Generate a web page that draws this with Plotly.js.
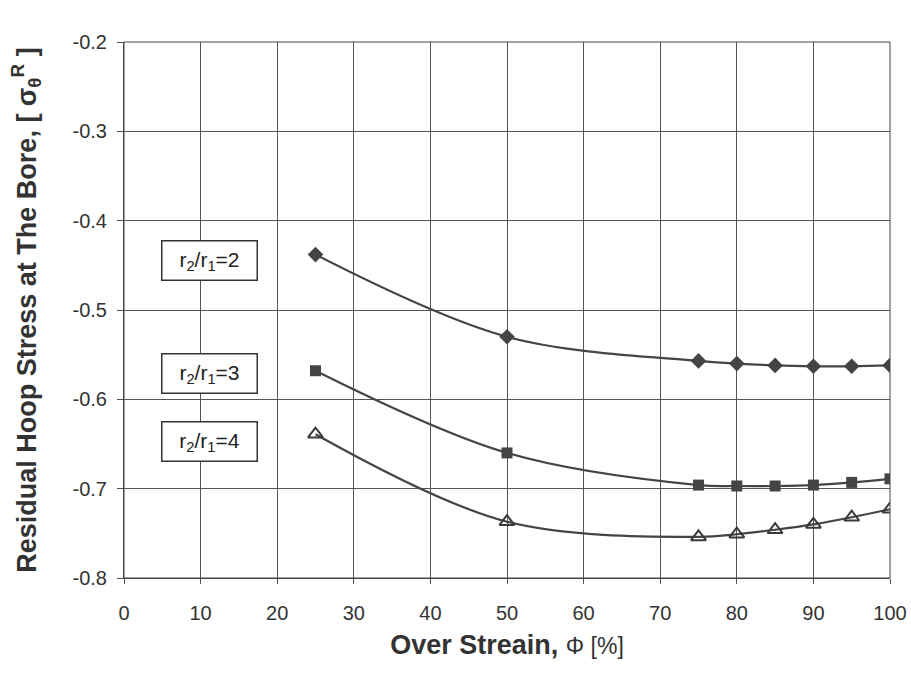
<!DOCTYPE html>
<html><head><meta charset="utf-8">
<script src="https://cdn.plot.ly/plotly-3.0.1.min.js"></script>
<style>html,body{margin:0;padding:0;background:#fff}</style>
</head><body>
<div id="chart" style="width:911px;height:686px"></div>
<script>
const overStrain = [25, 50, 75, 80, 85, 90, 95, 100];
const ratio2 = [-0.438, -0.530, -0.557, -0.560, -0.562, -0.563, -0.563, -0.562];
const ratio3 = [-0.568, -0.660, -0.696, -0.697, -0.697, -0.696, -0.693, -0.689];
const ratio4 = [-0.639, -0.737, -0.754, -0.751, -0.746, -0.740, -0.732, -0.723];
const yTickVals = [-0.8, -0.7, -0.6, -0.5, -0.4, -0.3, -0.2];
const yTickText = ["-0.8", "-0.7", "-0.6", "-0.5", "-0.4", "-0.3", "-0.2"];
const xTickVals = [0, 10, 20, 30, 40, 50, 60, 70, 80, 90, 100];
const labels = ["r<sub>2</sub>/r<sub>1</sub>=2", "r<sub>2</sub>/r<sub>1</sub>=3", "r<sub>2</sub>/r<sub>1</sub>=4"];
const labelX = [11.2, 11.2, 11.2];
const labelY = [-0.445, -0.571, -0.647];

const lineColor = '#444';
const traces = [
  {x: overStrain, y: ratio2, mode: 'lines+markers', line: {color: lineColor, width: 2.2, shape: 'spline'},
   marker: {symbol: 'diamond', size: 12, color: '#444'}},
  {x: overStrain, y: ratio3, mode: 'lines+markers', line: {color: lineColor, width: 2.2, shape: 'spline'},
   marker: {symbol: 'square', size: 11, color: '#444'}},
  {x: overStrain, y: ratio4, mode: 'lines+markers', line: {color: lineColor, width: 2.2, shape: 'spline'},
   marker: {symbol: 'triangle-up-open', size: 13, color: '#3a3a3a', line: {width: 2}}}
];
const annotations = labels.map((t, i) => ({
  x: labelX[i], y: labelY[i], xref: 'x', yref: 'y', text: t, showarrow: false,
  font: {family: 'Liberation Sans, Arial', size: 21, color: '#222'},
  bgcolor: '#fff', bordercolor: '#333', borderwidth: 1.5, borderpad: 6, width: 82
}));
const layout = {
  width: 911, height: 686,
  margin: {l: 124, r: 21, t: 42, b: 108},
  paper_bgcolor: '#fff', plot_bgcolor: '#fff',
  showlegend: false,
  font: {family: 'Liberation Sans, Arial', color: '#333'},
  xaxis: {range: [0, 100], tickvals: xTickVals, showgrid: true, gridcolor: '#555', gridwidth: 1,
    zeroline: false, showline: true, linecolor: '#444', mirror: false, ticks: 'outside', ticklen: 5, tickcolor: '#555',
    ticklabelstandoff: 12,
    tickfont: {size: 20, color: '#333'},
    title: {text: "<b>Over Streain,</b> <span style='font-size:23px'>Φ [%]</span>", font: {size: 27, color: '#333'}, standoff: 12}},
  yaxis: {range: [-0.8, -0.2], tickvals: yTickVals, ticktext: yTickText, showgrid: true, gridcolor: '#555', gridwidth: 1,
    zeroline: false, showline: true, linecolor: '#444', ticks: 'outside', ticklen: 6, tickcolor: '#555',
    ticklabelstandoff: 6,
    tickfont: {size: 20, color: '#333'},
    title: {text: "<b>Residual Hoop Stress at The Bore, [ σ<sub>θ</sub><sup>R</sup> ]</b>", font: {size: 27, color: '#333'}, standoff: 28}},
  shapes: [{type: 'rect', xref: 'paper', yref: 'paper', x0: 0, x1: 1, y0: 0, y1: 1, line: {color: '#444', width: 1}}],
  annotations: annotations
};
Plotly.newPlot('chart', traces, layout, {displayModeBar: false, staticPlot: true});
</script>
</body></html>
